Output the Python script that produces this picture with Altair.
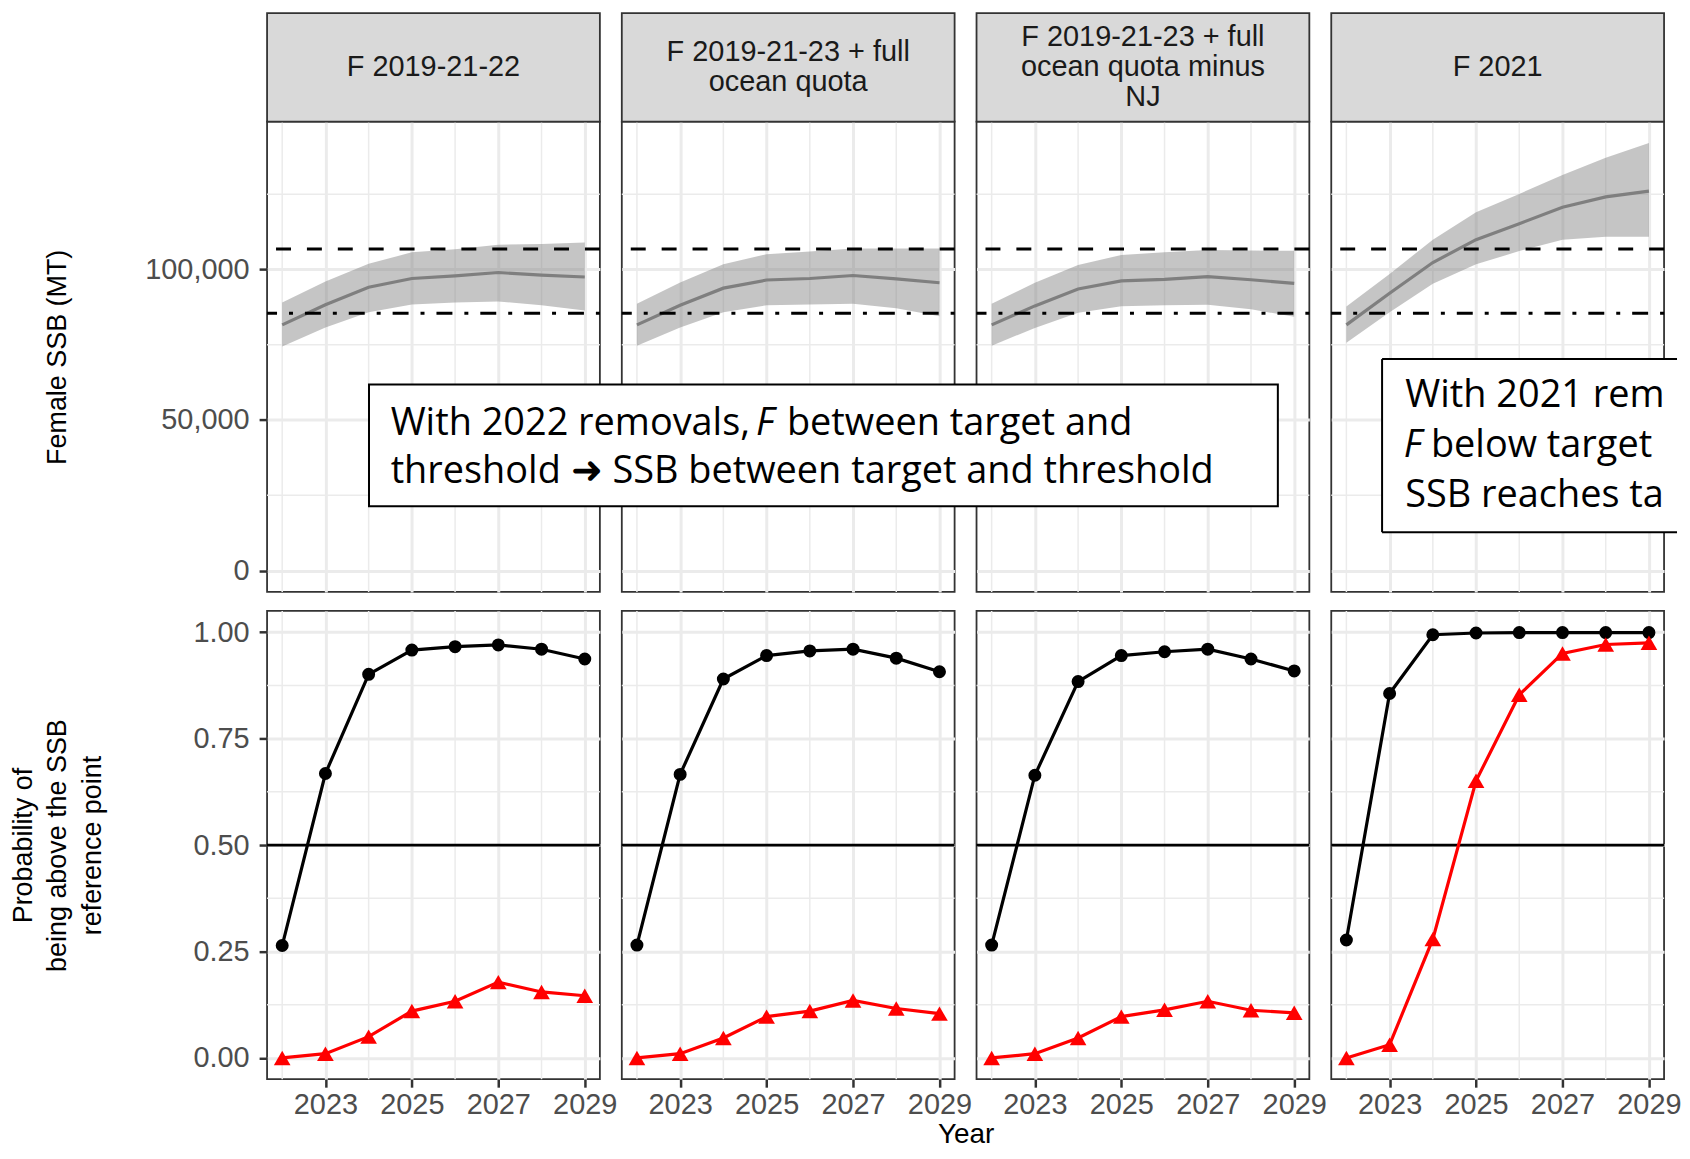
import altair as alt
import pandas as pd

# ---------------- data ----------------
years = [2022, 2023, 2024, 2025, 2026, 2027, 2028, 2029]
strip_labels = [
    ["F 2019-21-22"],
    ["F 2019-21-23 + full", "ocean quota"],
    ["F 2019-21-23 + full", "ocean quota minus", "NJ"],
    ["F 2021"],
]

ssb_median = [
    [81600, 88300, 94100, 97000, 97900, 99000, 98100, 97500],
    [81600, 88100, 93800, 96500, 97000, 98000, 96900, 95600],
    [81600, 87900, 93500, 96200, 96700, 97600, 96600, 95400],
    [81600, 92100, 102300, 109900, 115200, 120700, 124100, 126000],
]
ssb_lower = [
    [74400, 80700, 85800, 88400, 89000, 89400, 88100, 86400],
    [74700, 80700, 85800, 88100, 88400, 88600, 87100, 84500],
    [74700, 80600, 85600, 87800, 88100, 88300, 86800, 84300],
    [75700, 85800, 95300, 101700, 106100, 109900, 110900, 110900],
]
ssb_upper = [
    [89000, 96000, 101900, 105700, 106700, 108200, 108500, 109000],
    [88600, 95700, 101700, 105100, 106000, 107000, 107000, 107000],
    [88600, 95600, 101500, 104800, 105700, 106500, 106300, 106200],
    [87700, 98500, 109900, 119000, 125100, 131400, 137100, 142000],
]
prob_threshold = [
    [0.264, 0.668, 0.901, 0.958, 0.966, 0.970, 0.960, 0.937],
    [0.265, 0.666, 0.890, 0.945, 0.956, 0.960, 0.939, 0.907],
    [0.265, 0.664, 0.884, 0.945, 0.954, 0.960, 0.937, 0.909],
    [0.277, 0.856, 0.994, 0.998, 0.999, 0.999, 0.999, 0.999],
]
prob_target = [
    [0.0, 0.010, 0.050, 0.110, 0.133, 0.178, 0.155, 0.146],
    [0.0, 0.010, 0.047, 0.097, 0.110, 0.135, 0.116, 0.104],
    [0.0, 0.010, 0.047, 0.097, 0.113, 0.133, 0.112, 0.106],
    [0.0, 0.031, 0.279, 0.651, 0.853, 0.950, 0.971, 0.975],
]
ssb_target = [106800]
ssb_threshold = [85440]
prob_half = [0.5]

x_major = [2023, 2025, 2027, 2029]
x_minor = [2022, 2024, 2026, 2028]
ssb_major = [0, 50000, 100000]
ssb_minor = [25000, 75000, 125000]
prob_major = [0, 0.25, 0.5, 0.75, 1.0]
prob_minor = [0.125, 0.375, 0.625, 0.875]

note1_a = ["With 2022 removals,"]
note1_f = ["F"]
note1_b = ["between target and"]
note1_c = ["threshold \u279c SSB between target and threshold"]
note2_a = ["With 2021 removals,"]
note2_f = ["F"]
note2_b = ["below target \u279c"]
note2_c = ["SSB reaches target"]

# ---------------- style ----------------
W, H_TOP, H_BOT, H_STRIP = 334, 472, 470, 109
ROW_GAP, COL_GAP = 19, 22
GRID = "#EBEBEB"
BORDER = "#333333"
AX_FONT = "Liberation Sans"
NOTE_FONT = "Open Sans"
NOTE_SIZE = 38
STRIP_SIZE = 29
STRIP_LH = 30

x_pad = 0.05 * (max(years) - min(years))
x_domain = [min(years) - x_pad, max(years) + x_pad]
ssb_hi = max(max(u) for u in ssb_upper)
ssb_domain = [-0.05 * ssb_hi, ssb_hi * 1.05]
prob_domain = [-0.05, 1.05]


def xs():
    return alt.Scale(domain=x_domain, nice=False, zero=False)


def one(d):
    return pd.DataFrame(d)


def txt(data, x, y, italic=False, limit=None):
    kw = dict(font=NOTE_FONT, fontSize=NOTE_SIZE, color="black",
              align="left", baseline="alphabetic")
    if italic:
        kw["fontStyle"] = "italic"
    if limit is not None:
        kw["limit"] = limit
        kw["ellipsis"] = "\u200b"
    return alt.Chart(one({"t": data})).mark_text(**kw).encode(
        x=alt.value(x), y=alt.value(y), text="t:N")


def top_panel(i):
    df = pd.DataFrame({"year": years, "median": ssb_median[i],
                       "lower": ssb_lower[i], "upper": ssb_upper[i]})
    ys = alt.Scale(domain=ssb_domain, nice=False, zero=False)
    xa = alt.Axis(values=x_major, labels=False, ticks=False, title=None,
                  grid=True, gridWidth=3)
    if i == 0:
        ya = alt.Axis(values=ssb_major, format=",.0f", title="Female SSB (MT)",
                      titleX=-210, titleY=H_TOP / 2, titleAngle=270,
                      titleBaseline="middle", titleAlign="center",
                      labelFlush=False, grid=True, gridWidth=3)
    else:
        ya = alt.Axis(values=ssb_major, labels=False, ticks=False, title=None,
                      grid=True, gridWidth=3)
    X = lambda f: alt.X(f, scale=xs(), axis=xa)
    Y = lambda f: alt.Y(f, scale=ys, axis=ya)

    layers = [
        alt.Chart(one({"year": x_minor})).mark_rule(color=GRID, strokeWidth=1.5)
        .encode(x=X("year:Q")),
        alt.Chart(one({"v": ssb_minor})).mark_rule(color=GRID, strokeWidth=1.5)
        .encode(y=Y("v:Q")),
        alt.Chart(df).mark_area(color="#7F7F7F", opacity=0.45)
        .encode(x=X("year:Q"), y=Y("lower:Q"), y2="upper:Q"),
        alt.Chart(df).mark_line(color="#7F7F7F", strokeWidth=3.2)
        .encode(x=X("year:Q"), y=Y("median:Q")),
        alt.Chart(one({"v": ssb_target})).mark_rule(color="black", strokeWidth=3,
                                                    strokeDash=[15, 16])
        .encode(y=Y("v:Q")),
        alt.Chart(one({"v": ssb_threshold})).mark_rule(color="black", strokeWidth=3,
                                                       strokeDash=[4, 12, 16, 12])
        .encode(y=Y("v:Q")),
        # facet strip
        alt.Chart(one({"label": [" ".join(strip_labels[i])]})).mark_rect(
            fill="#D9D9D9", stroke=BORDER, strokeWidth=1.8)
        .encode(x=alt.value(0), x2=alt.value(W), y=alt.value(-H_STRIP), y2=alt.value(0)),
    ]
    lines = strip_labels[i]
    n = len(lines)
    for k, line in enumerate(lines):
        yk = -H_STRIP / 2 + (k - (n - 1) / 2) * STRIP_LH
        layers.append(
            alt.Chart(one({"label": [line]})).mark_text(
                font=AX_FONT, fontSize=STRIP_SIZE, color="#1A1A1A",
                baseline="middle", align="center")
            .encode(x=alt.value(W / 2), y=alt.value(yk), text="label:N"))

    if i == 2:
        layers += [
            alt.Chart(one({"t": note1_a})).mark_rect(fill="white", stroke="black",
                                                     strokeWidth=2)
            .encode(x=alt.value(-609.7), x2=alt.value(302.4),
                    y=alt.value(263.7), y2=alt.value(386)),
            txt(note1_a, -588, 314.3),
            txt(note1_f, -221.3, 314.3, italic=True),
            txt(note1_b, -190.3, 314.3),
            txt(note1_c, -588, 362.7),
        ]
    if i == 3:
        bx1, bx2, by1, by2 = 51, 347, 238.3, 412
        layers += [
            alt.Chart(one({"t": note2_a})).mark_rect(fill="white", strokeWidth=0)
            .encode(x=alt.value(bx1), x2=alt.value(bx2), y=alt.value(by1), y2=alt.value(by2)),
            alt.Chart(one({"t": note2_a})).mark_rule(color="black", strokeWidth=2)
            .encode(x=alt.value(bx1), x2=alt.value(bx2), y=alt.value(by1)),
            alt.Chart(one({"t": note2_a})).mark_rule(color="black", strokeWidth=2)
            .encode(x=alt.value(bx1), x2=alt.value(bx2), y=alt.value(by2)),
            alt.Chart(one({"t": note2_a})).mark_rule(color="black", strokeWidth=2)
            .encode(x=alt.value(bx1), y=alt.value(by1), y2=alt.value(by2)),
            txt(note2_a, 74.3, 286, limit=bx2 - 74.3),
            txt(note2_f, 72.7, 337, italic=True),
            txt(note2_b, 100, 337, limit=bx2 - 100),
            txt(note2_c, 74.3, 387, limit=bx2 - 74.3),
        ]
    return alt.layer(*layers).properties(width=W, height=H_TOP)


def bottom_panel(i):
    df = pd.DataFrame({"year": years, "thr": prob_threshold[i], "tgt": prob_target[i]})
    ys = alt.Scale(domain=prob_domain, nice=False, zero=False)
    xkw = dict(values=x_major, format="d", labelFlush=False, grid=True, gridWidth=3,
               labelPadding=3)
    if i == 1:
        xa = alt.Axis(title="Year", titleX=W + COL_GAP / 2, titleY=64,
                      titleAlign="center", titleBaseline="alphabetic",
                      titleFontSize=28, **xkw)
    else:
        xa = alt.Axis(title=None, **xkw)
    if i == 0:
        ya = alt.Axis(values=prob_major, format=".2f",
                      title=["Probability of", "being above the SSB", "reference point"],
                      titleX=-244.4, titleY=H_BOT / 2, titleAngle=270,
                      titleBaseline="middle", titleAlign="center", titleLineHeight=34.4,
                      labelFlush=False, grid=True, gridWidth=3)
    else:
        ya = alt.Axis(values=prob_major, labels=False, ticks=False, title=None,
                      grid=True, gridWidth=3)
    X = lambda f: alt.X(f, scale=xs(), axis=xa)
    Y = lambda f: alt.Y(f, scale=ys, axis=ya)
    layers = [
        alt.Chart(one({"year": x_minor})).mark_rule(color=GRID, strokeWidth=1.5)
        .encode(x=X("year:Q")),
        alt.Chart(one({"v": prob_minor})).mark_rule(color=GRID, strokeWidth=1.5)
        .encode(y=Y("v:Q")),
        alt.Chart(one({"v": prob_half})).mark_rule(color="black", strokeWidth=2.8)
        .encode(y=Y("v:Q")),
        alt.Chart(df).mark_line(color="black", strokeWidth=3.2)
        .encode(x=X("year:Q"), y=Y("thr:Q")),
        alt.Chart(df).mark_point(shape="circle", filled=True, size=170, color="black",
                                 opacity=1)
        .encode(x=X("year:Q"), y=Y("thr:Q")),
        alt.Chart(df).mark_line(color="#FF0000", strokeWidth=3.2)
        .encode(x=X("year:Q"), y=Y("tgt:Q")),
        alt.Chart(df).mark_point(shape="triangle-up", filled=True, size=280,
                                 color="#FF0000", opacity=1)
        .encode(x=X("year:Q"), y=Y("tgt:Q")),
    ]
    return alt.layer(*layers).properties(width=W, height=H_BOT)


panels = [top_panel(i) for i in range(4)] + [bottom_panel(i) for i in range(4)]

chart = (
    alt.concat(*panels, columns=4, spacing={"row": ROW_GAP, "column": COL_GAP},
               bounds="flush")
    .properties(padding={"left": 0, "top": 1, "right": 0, "bottom": 0},
                background="white")
    .configure_view(stroke=BORDER, strokeWidth=1.8)
    .configure_axis(
        labelFont=AX_FONT, labelFontSize=29, labelColor="#4D4D4D", labelPadding=10,
        tickColor=BORDER, tickWidth=2.5, tickSize=8, domain=False,
        gridColor=GRID, titleFont=AX_FONT, titleFontSize=27, titleColor="black",
        titleFontWeight="normal",
    )
)

chart.save("out.html", embed_options={"renderer": "svg", "actions": False})
